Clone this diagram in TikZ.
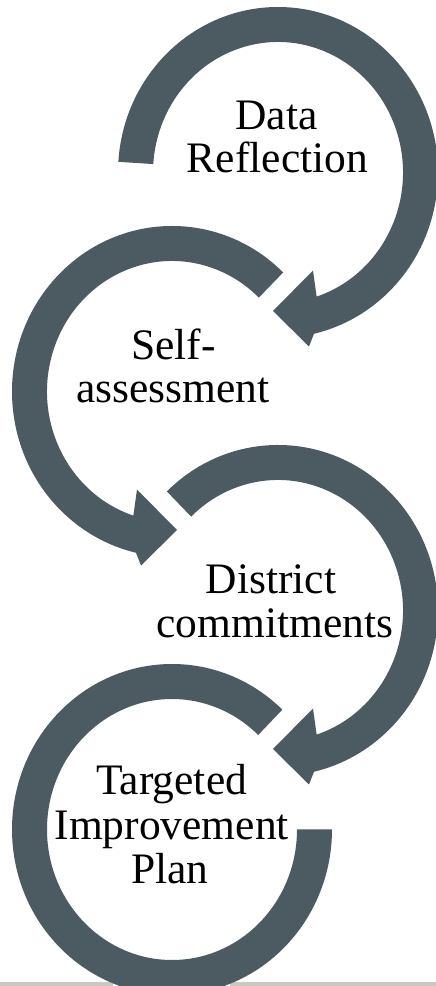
\documentclass[tikz,border=0pt]{standalone}
\usepackage{fontspec}
\setmainfont{Liberation Serif}
\definecolor{ringcol}{RGB}{76,90,97}
\definecolor{footcol}{RGB}{201,201,191}
\tikzset{
  ringfill/.style={fill=ringcol},
  lbl/.style={anchor=base, inner sep=0pt, font=\fontsize{43.5bp}{44bp}\selectfont, text=black},
}
\newcommand{\arrowring}[1]{%
  \fill[ringfill] (#1:160bp and 165.5bp)
    arc[start angle=#1, end angle=-77, x radius=160bp, y radius=165.5bp]
    -- (31bp,-174bp) -- (-5bp,-138.5bp) -- (35bp,-98bp) -- (-72:125bp and 130.5bp)
    arc[start angle=-72, end angle=#1, x radius=125bp, y radius=130.5bp] -- cycle;}
\begin{document}
\begin{tikzpicture}[x=1bp,y=1bp]
\useasboundingbox (0,0) rectangle (436,986);
\clip (0,0) rectangle (436,986);
\fill[white] (0,0) rectangle (436,986);
% footer line
\fill[footcol] (0,0) rectangle (113,4);
\fill[footcol] (230,0) rectangle (436,4);
% ring 1
\begin{scope}[shift={(278,813.5)}] \arrowring{176.3} \end{scope}
% ring 2 (mirrored)
\begin{scope}[shift={(172,594.5)},xscale=-1] \arrowring{134} \end{scope}
% ring 3
\begin{scope}[shift={(278,375.5)}] \arrowring{134} \end{scope}
% ring 4 (no arrowhead)
\begin{scope}[shift={(172,156.5)}]
  \fill[ringfill] (46.4:160bp and 165.5bp)
    arc[start angle=46.4, end angle=360, x radius=160bp, y radius=165.5bp]
    -- (0:125bp and 130.5bp)
    arc[start angle=360, end angle=46.4, x radius=125bp, y radius=130.5bp] -- cycle;
\end{scope}
% labels
\node[lbl] (dr1) at (276.5,856) {Data};
\node[lbl] (dr2) at (277.5,813) {Reflection};
\node[lbl] (sa1) at (173.3,626.7) {Self-};
\node[lbl] (sa2) at (173,583.3) {assessment};
\node[lbl] (dc1) at (271,392.7) {District};
\node[lbl] (dc2) at (275,348.3) {commitments};
\node[lbl] (tp1) at (171.7,191) {Targeted};
\node[lbl] (tp2) at (171.7,146.7) {Improvement};
\node[lbl] (tp3) at (170,102.7) {Plan};
\end{tikzpicture}
\end{document}
